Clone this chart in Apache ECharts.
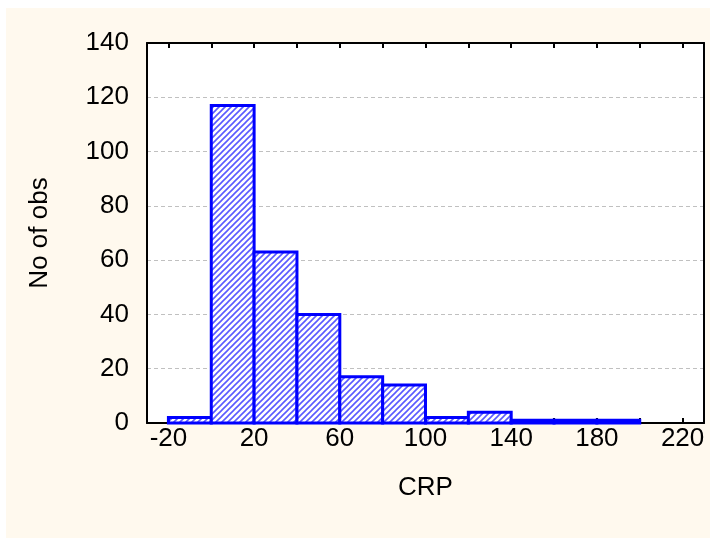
<!DOCTYPE html>
<html>
<head>
<meta charset="utf-8">
<script src="https://cdn.jsdelivr.net/npm/echarts@6/dist/echarts.min.js"></script>
<style>
html,body{margin:0;padding:0;background:#ffffff;width:710px;height:538px;overflow:hidden;}
#chart{position:absolute;left:6px;top:8px;width:704px;height:530px;}
</style>
</head>
<body>
<div id="chart"></div>
<script>
// Histogram bins (lower edges), bin width and counts
const binStarts = [-20, 0, 20, 40, 60, 80, 100, 120, 140, 160, 180];
const binWidth = 20;
const counts = [2, 117, 63, 40, 17, 14, 2, 4, 1, 1, 1];
const xTickLabels = [-20, 20, 60, 100, 140, 180, 220];
const xMinorTicks = [-20, 0, 20, 40, 60, 80, 100, 120, 140, 160, 180, 200, 220];

// hatch pattern
const pc = document.createElement('canvas');
pc.width = 6; pc.height = 6;
const g = pc.getContext('2d');
g.fillStyle = '#ffffff';
g.fillRect(0, 0, 6, 6);
g.strokeStyle = '#5a5aff';
g.lineWidth = 1.6;
g.beginPath();
g.moveTo(-1, 7); g.lineTo(7, -1);
g.moveTo(-4, 4); g.lineTo(4, -4);
g.moveTo(2, 10); g.lineTo(10, 2);
g.stroke();
const pattern = { image: pc, repeat: 'repeat' };

const data = binStarts.map((s, i) => [s, s + binWidth, counts[i]]);

const chart = echarts.init(document.getElementById('chart'));
const font = '"Liberation Sans", Arial, sans-serif';
const fs = 26;
chart.setOption({
  backgroundColor: '#FFF9EE',
  animation: false,
  grid: { left: 141, right: 6, top: 35, bottom: 115, show: true, backgroundColor: '#ffffff', borderWidth: 0 },
  xAxis: [{
    type: 'value', position: 'bottom', min: -30, max: 230,
    name: 'CRP', nameLocation: 'middle', nameGap: 52,
    nameTextStyle: { fontFamily: font, fontSize: fs, color: '#000' },
    axisLine: { onZero: false, lineStyle: { color: '#000', width: 2 } },
    axisTick: { inside: true, length: 5, customValues: xMinorTicks, lineStyle: { color: '#000', width: 2 } },
    axisLabel: { customValues: xTickLabels, margin: 3, fontFamily: font, fontSize: fs, color: '#000' },
    splitLine: { show: false }
  }, {
    type: 'value', position: 'top', min: -30, max: 230,
    axisLine: { onZero: false, lineStyle: { color: '#000', width: 2 } },
    axisTick: { inside: true, length: 5, customValues: xMinorTicks, lineStyle: { color: '#000', width: 2 } },
    axisLabel: { show: false },
    splitLine: { show: false }
  }],
  yAxis: [{
    type: 'value', position: 'left', min: 0, max: 140, interval: 20,
    name: 'No of obs', nameLocation: 'middle', nameGap: 94,
    nameTextStyle: { fontFamily: font, fontSize: fs, color: '#000' },
    axisLine: { show: true, onZero: false, lineStyle: { color: '#000', width: 2 } },
    axisTick: { show: false },
    axisLabel: { margin: 18, fontFamily: font, fontSize: fs, color: '#000' },
    splitLine: { show: true, lineStyle: { color: '#c0c0c0', type: [4, 3], width: 1 } }
  }, {
    type: 'value', position: 'right', min: 0, max: 140, interval: 20,
    axisLine: { show: true, onZero: false, lineStyle: { color: '#000', width: 2 } },
    axisTick: { show: false }, axisLabel: { show: false }, splitLine: { show: false }
  }],
  series: [{
    type: 'custom',
    xAxisIndex: 0, yAxisIndex: 0,
    data: data,
    encode: { x: [0, 1], y: 2 },
    renderItem: function (params, api) {
      const p0 = api.coord([api.value(0), api.value(2)]);
      const p1 = api.coord([api.value(1), 0]);
      return {
        type: 'rect',
        shape: { x: p0[0], y: p0[1], width: p1[0] - p0[0], height: p1[1] - p0[1] },
        style: { fill: pattern, stroke: '#0000ff', lineWidth: 3 }
      };
    }
  }]
});
</script>
</body>
</html>
